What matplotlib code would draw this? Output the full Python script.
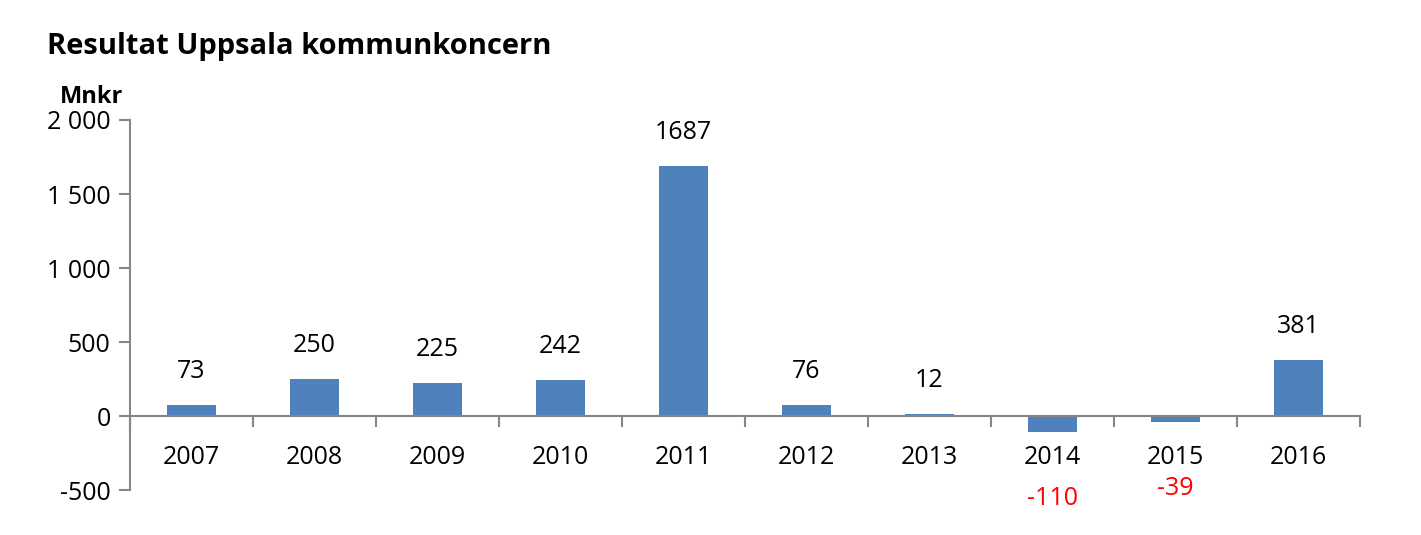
import matplotlib.pyplot as plt
import numpy as np

years = ['2007', '2008', '2009', '2010', '2011', '2012', '2013', '2014', '2015', '2016']
result = [73, 250, 225, 242, 1687, 76, 12, -110, -39, 381]

plt.rcParams['font.family'] = ['Open Sans', 'DejaVu Sans']
grey = '#868686'

fig = plt.figure(figsize=(14.21, 5.35), dpi=100)
ax = fig.add_axes([130/1421, 1-490/535, 1230/1421, 370/535])

x = np.arange(len(years))
ax.bar(x, result, width=0.4, color='#4F81BD')
ax.set_xlim(-0.5, len(years)-0.5)
ax.set_ylim(-500, 2000)
ax.set_yticks([-500, 0, 500, 1000, 1500, 2000])
ax.set_yticklabels(['-500', '0', '500', '1 000', '1 500', '2 000'], fontsize=18)

ax.spines['top'].set_visible(False)
ax.spines['right'].set_visible(False)
ax.spines['left'].set_color(grey)
ax.spines['bottom'].set_color(grey)
ax.spines['bottom'].set_position(('data', 0))
ax.spines['left'].set_linewidth(1.5)
ax.spines['bottom'].set_linewidth(1.5)
ax.tick_params(axis='y', length=8, width=1.5, color=grey, pad=6)

# tick marks between categories
ax.set_xticks(np.arange(len(years)+1) - 0.5)
ax.set_xticklabels([])
ax.tick_params(axis='x', length=8, width=1.5, color=grey, direction='out')
for i, y in enumerate(years):
    ax.text(i, -280, y, ha='center', va='center', fontsize=18)

for i, v in enumerate(result):
    if v >= 0:
        ax.annotate(str(v), (i, v), xytext=(0, 24), textcoords='offset points',
                    ha='center', va='center', fontsize=18)
    else:
        ax.annotate(str(v), (i, v), xytext=(0, -48), textcoords='offset points',
                    ha='center', va='center', fontsize=18, color='#FF0000')

fig.text(47/1421, 1-47/535, 'Resultat Uppsala kommunkoncern', fontsize=21,
         fontweight='bold', va='center')
fig.text(60/1421, 1-97/535, 'Mnkr', fontsize=17, fontweight='bold', va='center')

fig.savefig('out.png', dpi=100)
